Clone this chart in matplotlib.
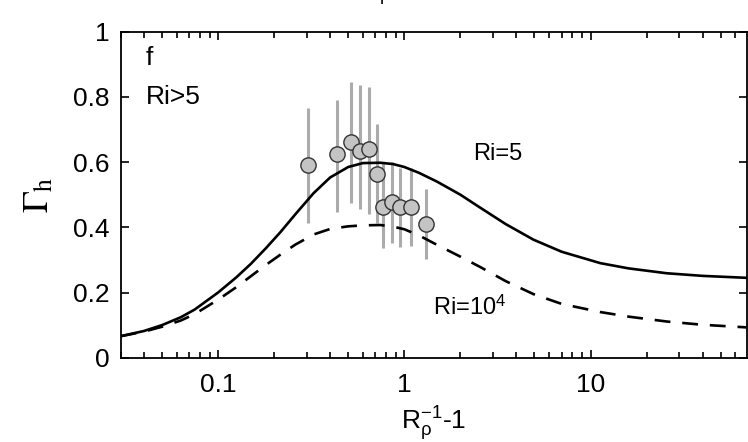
import matplotlib
matplotlib.use('Agg')
import matplotlib.pyplot as plt
import numpy as np

plt.rcParams['font.family'] = ['Liberation Sans', 'DejaVu Sans']
plt.rcParams['mathtext.fontset'] = 'stix'
plt.rcParams['xtick.direction'] = 'in'
plt.rcParams['ytick.direction'] = 'in'

# observations (x, gamma, error bar ends)
obs_x = [0.304, 0.435, 0.518, 0.576, 0.646, 0.710, 0.772, 0.859, 0.944, 1.081, 1.312]
obs_y = [0.591, 0.625, 0.661, 0.634, 0.639, 0.563, 0.463, 0.477, 0.461, 0.461, 0.410]
obs_lo = [0.412, 0.448, 0.475, 0.455, 0.440, 0.413, 0.336, 0.353, 0.339, 0.343, 0.303]
obs_hi = [0.765, 0.790, 0.845, 0.835, 0.830, 0.716, 0.598, 0.601, 0.581, 0.581, 0.517]

# model curves
curve_x = [0.03, 0.04, 0.05, 0.063, 0.075, 0.1, 0.125, 0.15, 0.18, 0.216, 0.26, 0.326,
           0.4, 0.5, 0.6, 0.743, 0.87, 1.0, 1.2, 1.5, 2.0, 2.56, 3.5, 4.94, 7.0,
           11.3, 16.0, 25.7, 40.0, 69.0]
ri5_y = [0.066, 0.082, 0.1, 0.124, 0.148, 0.2, 0.246, 0.288, 0.335, 0.385, 0.44, 0.505,
         0.553, 0.585, 0.597, 0.598, 0.594, 0.585, 0.567, 0.54, 0.5, 0.46, 0.41, 0.362, 0.325,
         0.29, 0.274, 0.259, 0.251, 0.245]
ri1e4_y = [0.066, 0.08, 0.095, 0.114, 0.134, 0.178, 0.216, 0.25, 0.284, 0.316, 0.347, 0.378,
           0.395, 0.403, 0.406, 0.407, 0.402, 0.394, 0.375, 0.346, 0.31, 0.278, 0.235, 0.195, 0.165,
           0.14, 0.126, 0.111, 0.101, 0.093]

fig = plt.figure(figsize=(7.48, 4.42), dpi=100)
ax = fig.add_axes([0.1614, 0.1907, 0.8369, 0.7376])

yerr = [np.array(obs_y) - np.array(obs_lo), np.array(obs_hi) - np.array(obs_y)]
ax.errorbar(obs_x, obs_y, yerr=yerr, fmt='none', ecolor='#ababab', elinewidth=2.2,
            capsize=0, zorder=2)
ax.plot(curve_x, ri5_y, color='black', lw=1.9, zorder=3)
ax.plot(curve_x, ri1e4_y, color='black', lw=1.9, dashes=(6, 4.5), zorder=3)
ax.plot(obs_x, obs_y, 'o', ms=11, mfc='#c4c4c4', mec='#333333', mew=1.0, zorder=4)

ax.set_xscale('log')
ax.set_xlim(0.03, 69)
ax.set_ylim(0, 1)
ax.set_xticks([0.1, 1, 10])
ax.set_xticklabels(['0.1', '1', '10'])
ax.set_yticks([0, 0.2, 0.4, 0.6, 0.8, 1])
ax.set_yticklabels(['0', '0.2', '0.4', '0.6', '0.8', '1'])
ax.tick_params(which='both', top=True, right=True, labelsize=19, width=1.2)
ax.tick_params(which='major', length=6, pad=8)
ax.tick_params(axis='x', which='major', pad=11)
ax.tick_params(which='minor', length=4)
for s in ax.spines.values():
    s.set_linewidth(1.3)

ax.set_xlabel(r'$\mathregular{R_\rho^{-1}}$-1', fontsize=19, labelpad=5)
ax.set_ylabel(r'$\Gamma_\mathrm{h}$', fontsize=26, labelpad=12)

ax.text(0.041, 0.92, 'f', fontsize=19, va='center')
ax.text(0.041, 0.80, 'Ri>5', fontsize=19, va='center')
ax.text(2.35, 0.625, 'Ri=5', fontsize=17, va='center')
ax.text(1.42, 0.155, r'Ri=10$^\mathregular{4}$', fontsize=17, va='center')

# clipped label of the panel above
fig.text(0.525, 1.012, r'$\mathregular{R_\rho^{-1}}$-1', fontsize=19, ha='center', va='baseline')

fig.savefig('out.png', dpi=100)
